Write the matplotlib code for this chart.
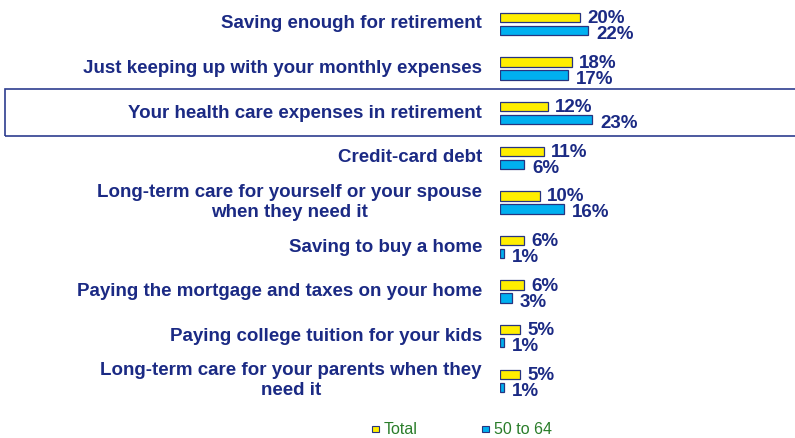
import matplotlib
matplotlib.use("Agg")
import matplotlib.pyplot as plt
from matplotlib.patches import Rectangle

categories = [
    "Saving enough for retirement",
    "Just keeping up with your monthly expenses",
    "Your health care expenses in retirement",
    "Credit-card debt",
    "Long-term care for yourself or your spouse\nwhen they need it",
    "Saving to buy a home",
    "Paying the mortgage and taxes on your home",
    "Paying college tuition for your kids",
    "Long-term care for your parents when they\nneed it",
]
total = [20, 18, 12, 11, 10, 6, 6, 5, 5]
age_50_64 = [22, 17, 23, 6, 16, 1, 3, 1, 1]
series_names = ["Total", "50 to 64"]

NAVY = "#1B2A84"
YELLOW = "#FFEE00"
BLUE = "#00B0F0"
EDGE = "#27347F"
GREEN = "#2A7D2A"
FONT = "Liberation Sans"

W, H = 795, 438
fig = plt.figure(figsize=(W / 100, H / 100), dpi=100)

# axes area in pixels: x 500..740, rows centred at 24 + 44.6*i
row_top, row_step = 24.0, 44.6
n = len(categories)
ax_top = row_top - row_step / 2
ax_bot = row_top + row_step * (n - 1) + row_step / 2
ax = fig.add_axes([500 / W, 1 - ax_bot / H, 240 / W, (ax_bot - ax_top) / H])
ax.set_xlim(0, 60)
ax.set_ylim(n - 0.5, -0.5)
ax.axis("off")

bar_h = 9.5 / row_step
off = 6.5 / row_step
ys = list(range(n))
ax.barh([y - off for y in ys], total, height=bar_h, color=YELLOW,
        edgecolor=EDGE, linewidth=0.9)
ax.barh([y + off for y in ys], age_50_64, height=bar_h, color=BLUE,
        edgecolor=EDGE, linewidth=0.9)

for y, t, s in zip(ys, total, age_50_64):
    ax.annotate(f"{t}%", (t, y - off), xytext=(7, -1), textcoords="offset pixels",
                ha="left", va="center", fontsize=13.5, fontweight="bold",
                color=NAVY, family=FONT)
    ax.annotate(f"{s}%", (s, y + off), xytext=(8, -4), textcoords="offset pixels",
                ha="left", va="center", fontsize=13.5, fontweight="bold",
                color=NAVY, family=FONT)
    ax.annotate(categories[y], (0, y), xytext=(-18, 0), textcoords="offset pixels",
                ha="right", va="center", multialignment="center",
                fontsize=13.5, fontweight="bold", color=NAVY, family=FONT,
                linespacing=1.25)

# highlight frame around the health-care row
fig.patches.append(Rectangle((5 / W, 1 - 135.5 / H), 1.0, 46.5 / H,
                             transform=fig.transFigure, fill=False,
                             edgecolor="#2E3D8F", linewidth=1.2))

# legend
for (px, label, col) in [(372, series_names[0], YELLOW), (482, series_names[1], BLUE)]:
    fig.patches.append(Rectangle((px / W, 1 - 432 / H), 6.5 / W, 6.5 / H,
                                 transform=fig.transFigure, facecolor=col,
                                 edgecolor=EDGE, linewidth=0.8))
    fig.text((px + 12) / W, 1 - 429.5 / H, label, ha="left", va="center",
             fontsize=11.5, color=GREEN, family=FONT)

fig.savefig("out.png", dpi=100)
